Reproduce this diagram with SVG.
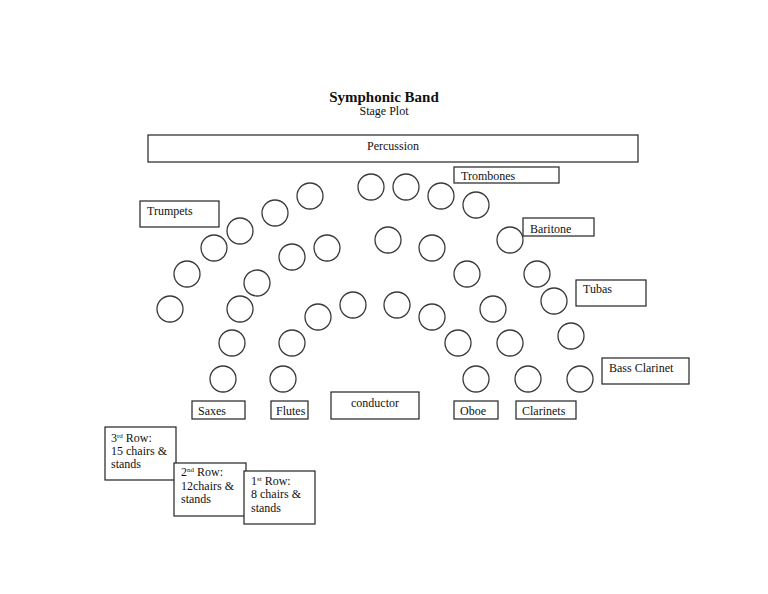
<svg xmlns="http://www.w3.org/2000/svg" width="768" height="594" viewBox="0 0 768 594">
<style>
.bx{fill:#fff;stroke:#222;stroke-width:1.2}
.ch{fill:#fff;stroke:#3a3a3a;stroke-width:1.3}
text{font-family:"Liberation Serif","Times New Roman",serif;font-size:12px;fill:#111}
.sup{font-size:7px}
</style>
<rect width="768" height="594" fill="#fff"/>
<g id="title">
<text x="384" y="102" text-anchor="middle" style="font-size:15px;font-weight:bold">Symphonic Band</text>
<text x="384" y="115" text-anchor="middle">Stage Plot</text>
</g>
<g id="percussion"><rect class="bx" x="148" y="135" width="490" height="27"/><text x="393" y="150" text-anchor="middle">Percussion</text></g>
<g id="trombones"><rect class="bx" x="454" y="167" width="105" height="16"/><text x="461" y="180">Trombones</text></g>
<g id="trumpets"><rect class="bx" x="140" y="201" width="79" height="26"/><text x="147" y="215">Trumpets</text></g>
<g id="baritone"><rect class="bx" x="523" y="218" width="71" height="18"/><text x="530" y="233">Baritone</text></g>
<g id="tubas"><rect class="bx" x="576" y="280" width="70" height="26"/><text x="583" y="293">Tubas</text></g>
<g id="bass-clarinet"><rect class="bx" x="602" y="358" width="87" height="26"/><text x="609" y="372">Bass Clarinet</text></g>
<g id="saxes"><rect class="bx" x="192" y="401" width="53" height="18"/><text x="198" y="415">Saxes</text></g>
<g id="flutes"><rect class="bx" x="271" y="401" width="37" height="18"/><text x="276" y="415">Flutes</text></g>
<g id="conductor"><rect class="bx" x="331" y="392" width="88" height="27"/><text x="375" y="407" text-anchor="middle">conductor</text></g>
<g id="oboe"><rect class="bx" x="454" y="401" width="44" height="18"/><text x="460" y="415">Oboe</text></g>
<g id="clarinets"><rect class="bx" x="516" y="401" width="60" height="18"/><text x="522" y="415">Clarinets</text></g>
<g id="row3-note"><rect class="bx" x="105" y="427" width="71" height="53"/>
<text x="111" y="442">3<tspan class="sup" dy="-4">rd</tspan><tspan dy="4"> Row:</tspan></text>
<text x="111" y="455">15 chairs &amp;</text><text x="111" y="468">stands</text></g>
<g id="row2-note"><rect class="bx" x="174" y="463" width="72" height="53"/>
<text x="181" y="476">2<tspan class="sup" dy="-4">nd</tspan><tspan dy="4"> Row:</tspan></text>
<text x="181" y="490">12chairs &amp;</text><text x="181" y="503">stands</text></g>
<g id="row1-note"><rect class="bx" x="244" y="471" width="71" height="53"/>
<text x="251" y="485">1<tspan class="sup" dy="-4">st</tspan><tspan dy="4"> Row:</tspan></text>
<text x="251" y="498">8 chairs &amp;</text><text x="251" y="512">stands</text></g>
<g id="row3-chairs">
<circle class="ch" cx="170" cy="309" r="13"/><circle class="ch" cx="187" cy="274" r="13"/><circle class="ch" cx="214" cy="248" r="13"/><circle class="ch" cx="240" cy="231" r="13"/><circle class="ch" cx="275" cy="213" r="13"/><circle class="ch" cx="310" cy="196" r="13"/><circle class="ch" cx="371" cy="187" r="13"/><circle class="ch" cx="406" cy="187" r="13"/><circle class="ch" cx="441" cy="196" r="13"/><circle class="ch" cx="476" cy="205" r="13"/><circle class="ch" cx="510" cy="240" r="13"/><circle class="ch" cx="537" cy="274" r="13"/><circle class="ch" cx="554" cy="301" r="13"/><circle class="ch" cx="571" cy="336" r="13"/><circle class="ch" cx="580" cy="379" r="13"/>
</g>
<g id="row2-chairs">
<circle class="ch" cx="223" cy="379" r="13"/><circle class="ch" cx="232" cy="343" r="13"/><circle class="ch" cx="240" cy="309" r="13"/><circle class="ch" cx="257" cy="283" r="13"/><circle class="ch" cx="292" cy="257" r="13"/><circle class="ch" cx="327" cy="248" r="13"/><circle class="ch" cx="388" cy="240" r="13"/><circle class="ch" cx="432" cy="248" r="13"/><circle class="ch" cx="467" cy="274" r="13"/><circle class="ch" cx="493" cy="309" r="13"/><circle class="ch" cx="510" cy="343" r="13"/><circle class="ch" cx="528" cy="379" r="13"/>
</g>
<g id="row1-chairs">
<circle class="ch" cx="283" cy="379" r="13"/><circle class="ch" cx="292" cy="343" r="13"/><circle class="ch" cx="318" cy="317" r="13"/><circle class="ch" cx="353" cy="305" r="13"/><circle class="ch" cx="397" cy="305" r="13"/><circle class="ch" cx="432" cy="317" r="13"/><circle class="ch" cx="458" cy="343" r="13"/><circle class="ch" cx="476" cy="379" r="13"/>
</g>
<g id="connectors"/>
</svg>
